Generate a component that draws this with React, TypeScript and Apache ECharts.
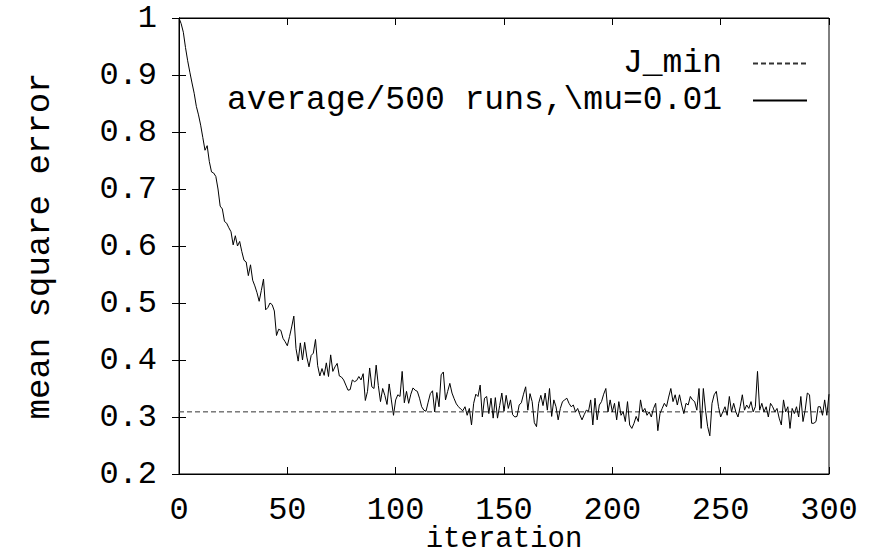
import React, { useEffect, useRef } from "react";
import * as echarts from "echarts";

const xTicks = [0, 50, 100, 150, 200, 250, 300];
const yTicks = [0.2, 0.3, 0.4, 0.5, 0.6, 0.7, 0.8, 0.9, 1];
const jMin = 0.309;
const seriesNames = ["J_min", "average/500 runs,\\mu=0.01"];

// mean square error, iterations 0..99
const mseA = [
  1.0, 0.99, 0.975, 0.948, 0.925, 0.905, 0.886, 0.868, 0.845, 0.83,
  0.812, 0.79, 0.768, 0.776, 0.748, 0.73, 0.728, 0.722, 0.7, 0.67,
  0.665, 0.643, 0.64, 0.632, 0.625, 0.602, 0.618, 0.6, 0.608, 0.59,
  0.575, 0.572, 0.548, 0.567, 0.54, 0.53, 0.518, 0.503, 0.522, 0.542,
  0.488, 0.492, 0.5, 0.497, 0.486, 0.443, 0.454, 0.452, 0.438, 0.432,
  0.425, 0.441, 0.458, 0.477, 0.42, 0.398, 0.43, 0.4, 0.431, 0.405,
  0.388, 0.408, 0.412, 0.436, 0.39, 0.372, 0.385, 0.373, 0.395, 0.371,
  0.409, 0.38, 0.388, 0.394, 0.372, 0.37, 0.365, 0.356, 0.347, 0.348,
  0.365, 0.362, 0.364, 0.371, 0.365, 0.376, 0.329, 0.345, 0.386, 0.353,
  0.35, 0.391, 0.355, 0.327, 0.35, 0.338, 0.322, 0.358, 0.33, 0.303,
];
// iterations 100..199
const mseB = [
  0.33, 0.339, 0.336, 0.38, 0.325, 0.345, 0.324, 0.34, 0.351, 0.347,
  0.345, 0.333, 0.318, 0.312, 0.31, 0.326, 0.341, 0.346, 0.309, 0.343,
  0.318, 0.374, 0.379, 0.33, 0.345, 0.359, 0.342, 0.332, 0.323, 0.318,
  0.314, 0.311, 0.318, 0.303, 0.315, 0.286, 0.324, 0.34, 0.336, 0.356,
  0.3, 0.333, 0.336, 0.306, 0.333, 0.298, 0.334, 0.298, 0.32, 0.342,
  0.31, 0.338, 0.315, 0.33, 0.304, 0.3, 0.301, 0.321, 0.325, 0.34,
  0.353, 0.312, 0.341, 0.327, 0.29, 0.283, 0.324, 0.338, 0.32, 0.342,
  0.312, 0.35, 0.301, 0.33, 0.318, 0.295, 0.315, 0.327, 0.33, 0.333,
  0.324, 0.318, 0.321, 0.309, 0.315, 0.304, 0.295, 0.304, 0.312, 0.31,
  0.33, 0.286, 0.333, 0.295, 0.321, 0.327, 0.34, 0.35, 0.309, 0.33,
];
// iterations 200..300
const mseC = [
  0.309, 0.324, 0.295, 0.327, 0.303, 0.309, 0.292, 0.327, 0.286, 0.28,
  0.289, 0.301, 0.292, 0.33, 0.309, 0.315, 0.303, 0.309, 0.3, 0.315,
  0.324, 0.276, 0.306, 0.315, 0.324, 0.318, 0.335, 0.35, 0.327, 0.339,
  0.321, 0.339, 0.321, 0.306, 0.324, 0.321, 0.336, 0.33, 0.327, 0.312,
  0.35, 0.28, 0.35, 0.312, 0.283, 0.267, 0.324, 0.339, 0.345, 0.318,
  0.3, 0.309, 0.318, 0.303, 0.336, 0.309, 0.324, 0.309, 0.3, 0.318,
  0.339, 0.312, 0.321, 0.315, 0.327, 0.309, 0.318, 0.38, 0.312, 0.324,
  0.309, 0.318, 0.3, 0.324, 0.318, 0.309, 0.315, 0.298, 0.286, 0.33,
  0.309, 0.318, 0.28, 0.315, 0.306, 0.318, 0.3, 0.336, 0.292, 0.312,
  0.342, 0.339, 0.289, 0.289, 0.292, 0.318, 0.318, 0.303, 0.33, 0.303,
  0.34,
];

const FONT = "Liberation Mono";

export default function App() {
  const ref = useRef<HTMLDivElement>(null);
  useEffect(() => {
    if (!ref.current) return;
    const chart = echarts.init(ref.current, null, { renderer: "svg" });
    const mse = [...mseA, ...mseB, ...mseC];
    const curve = mse.map((v, i) => [i, v]);
    const jLine = [
      [xTicks[0], jMin],
      [xTicks[xTicks.length - 1], jMin],
    ];
    const tickCommon = {
      axisLine: { show: true, lineStyle: { color: "#000", width: 1 } },
      axisTick: { show: true, inside: true, length: 7, lineStyle: { color: "#000", width: 1 } },
      splitLine: { show: false },
    };
    chart.setOption({
      animation: false,
      backgroundColor: "#fff",
      textStyle: { fontFamily: FONT, color: "#000" },
      grid: {
        left: 179,
        right: 46,
        top: 18,
        bottom: 84,
        show: true,
        borderColor: "#000",
        borderWidth: 1,
        containLabel: false,
        outerBoundsMode: "none",
      },
      legend: {
        orient: "vertical",
        right: 67,
        top: 45,
        padding: 0,
        align: "right",
        itemWidth: 54,
        itemHeight: 14,
        itemGap: 0,
        itemStyle: { opacity: 0 },
        data: [
          { name: seriesNames[0] },
          { name: seriesNames[1] },
        ],
        textStyle: {
          fontFamily: FONT,
          fontSize: 33,
          color: "#000",
          lineHeight: 37,
          padding: [0, 26, 0, 0],
        },
      },
      xAxis: [
        {
          type: "value",
          min: xTicks[0],
          max: xTicks[xTicks.length - 1],
          interval: 50,
          position: "bottom",
          name: "iteration",
          nameLocation: "middle",
          nameGap: 51,
          nameMoveOverlap: false,
          nameTextStyle: { fontFamily: FONT, fontSize: 29, lineHeight: 28, color: "#000" },
          axisLabel: { fontFamily: FONT, fontSize: 32, lineHeight: 26, color: "#000", margin: 23 },
          ...tickCommon,
        },
        {
          type: "value",
          min: xTicks[0],
          max: xTicks[xTicks.length - 1],
          interval: 50,
          position: "top",
          axisLabel: { show: false },
          ...tickCommon,
        },
      ],
      yAxis: [
        {
          type: "value",
          min: yTicks[0],
          max: yTicks[yTicks.length - 1],
          interval: 0.1,
          position: "left",
          name: "mean square error",
          nameLocation: "middle",
          nameGap: 122,
          nameTextStyle: { fontFamily: FONT, fontSize: 34, color: "#000" },
          axisLabel: {
            fontFamily: FONT,
            fontSize: 32,
            color: "#000",
            margin: 22,
            formatter: (v: number) => String(parseFloat(v.toFixed(1))),
          },
          ...tickCommon,
        },
        {
          type: "value",
          min: yTicks[0],
          max: yTicks[yTicks.length - 1],
          interval: 0.1,
          position: "right",
          axisLabel: { show: false },
          ...tickCommon,
        },
      ],
      series: [
        {
          name: seriesNames[0],
          type: "line",
          data: jLine,
          symbol: "none",
          silent: true,
          lineStyle: { color: "#333", width: 1, type: [5, 3] },
          itemStyle: { color: "#333" },
        },
        {
          name: seriesNames[1],
          type: "line",
          data: curve,
          symbol: "none",
          silent: true,
          lineStyle: { color: "#000", width: 1 },
          itemStyle: { color: "#000" },
        },
      ],
    });
    return () => chart.dispose();
  }, []);
  return (
    <div
      ref={ref}
      style={{ position: "absolute", left: 0, top: 0, width: 875, height: 558, background: "#fff" }}
    />
  );
}
